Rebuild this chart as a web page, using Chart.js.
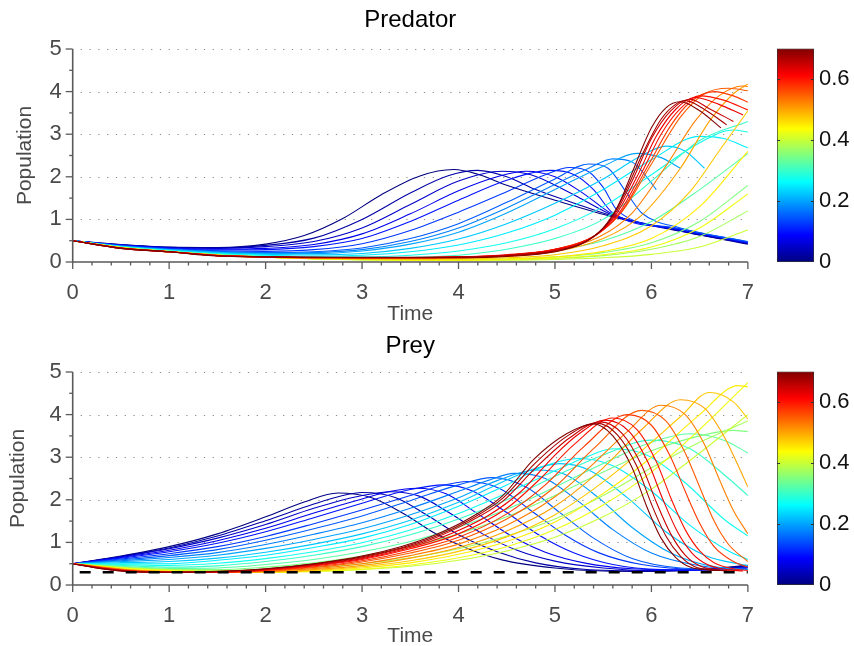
<!DOCTYPE html>
<html>
<head>
<meta charset="utf-8">
<script src="https://cdn.jsdelivr.net/npm/chart.js@4.4.1/dist/chart.umd.min.js"></script>
<style>
  body { margin: 0; background: #fff; width: 854px; height: 646px; position: relative; overflow: hidden; }
  canvas { position: absolute; }
</style>
</head>
<body>
<canvas id="predator" width="772" height="330" style="left:0;top:0"></canvas>
<canvas id="predatorBar" width="94" height="330" style="left:760px;top:0"></canvas>
<canvas id="prey" width="772" height="330" style="left:0;top:323px"></canvas>
<canvas id="preyBar" width="94" height="330" style="left:760px;top:323px"></canvas>
<script>
// parameter value of each curve (colour scale 0 .. 0.7)
const paramValues = [0, 0.025, 0.05, 0.075, 0.1, 0.125, 0.15, 0.175, 0.2, 0.225, 0.25, 0.275, 0.3, 0.325,
                     0.35, 0.375, 0.4, 0.425, 0.45, 0.475, 0.5, 0.525, 0.55, 0.575, 0.6, 0.625, 0.65, 0.675, 0.7];
const paramMax = 0.7;

// [time, population], one list per parameter value
const predatorCurves = [
  [[0,0.5],[0.5,0.41],[1,0.35],[1.5,0.34],[2,0.42],[2.4,0.62],[2.8,1.02],[3.2,1.58],[3.6,2.02],[3.95,2.17],[4.2,2.06],[4.5,1.8],[5,1.45],[5.6,1.06],[6.3,0.72],[7,0.42]],
  [[0,0.5],[0.5,0.405],[1,0.345],[1.5,0.33],[2,0.39],[2.5,0.56],[3,1.0],[3.5,1.62],[3.9,2.03],[4.2,2.15],[4.5,2.0],[4.8,1.7],[5.2,1.38],[5.6,1.08],[6.3,0.73],[7,0.43]],
  [[0,0.5],[0.5,0.4],[1,0.34],[1.5,0.32],[2,0.36],[2.5,0.48],[3,0.8],[3.5,1.35],[4,1.9],[4.45,2.13],[4.75,2.05],[5.05,1.75],[5.3,1.45],[5.6,1.1],[6.3,0.74],[7,0.44]],
  [[0,0.5],[0.5,0.395],[1,0.33],[1.5,0.3],[2,0.32],[2.5,0.41],[3,0.66],[3.5,1.13],[4,1.67],[4.4,2.0],[4.7,2.13],[5,2.0],[5.3,1.6],[5.6,1.12],[6.3,0.75],[7,0.45]],
  [[0,0.5],[0.5,0.39],[1,0.32],[1.5,0.28],[2,0.29],[2.5,0.36],[3,0.55],[3.5,0.95],[4,1.45],[4.5,1.92],[4.95,2.15],[5.2,2.05],[5.4,1.7],[5.6,1.15],[6.3,0.76],[7,0.46]],
  [[0,0.5],[0.5,0.385],[1,0.31],[1.5,0.265],[2,0.25],[2.5,0.29],[3,0.43],[3.5,0.74],[4,1.17],[4.5,1.65],[4.9,2.05],[5.15,2.22],[5.35,2.12],[5.5,1.75],[5.65,1.2],[6.3,0.78],[7,0.47]],
  [[0,0.5],[0.5,0.38],[1,0.3],[1.5,0.25],[2,0.22],[2.5,0.24],[3,0.33],[3.5,0.55],[4,0.9],[4.5,1.4],[5,1.95],[5.35,2.3],[5.55,2.2],[5.75,1.6],[5.9,1.15],[6.3,0.8],[7,0.48]],
  [[0,0.5],[0.5,0.375],[1,0.295],[1.5,0.24],[2,0.21],[2.5,0.22],[3,0.29],[3.5,0.48],[4,0.8],[4.5,1.27],[5,1.82],[5.35,2.2],[5.6,2.42],[5.8,2.35],[5.95,2.0],[6.05,1.7]],
  [[0,0.5],[0.5,0.37],[1,0.29],[1.5,0.23],[2,0.2],[2.5,0.2],[3,0.26],[3.5,0.42],[4,0.7],[4.5,1.15],[5,1.7],[5.5,2.25],[5.85,2.55],[6.1,2.45],[6.3,2.2]],
  [[0,0.5],[0.5,0.365],[1,0.28],[1.5,0.215],[2,0.18],[2.5,0.17],[3,0.2],[3.5,0.32],[4,0.54],[4.5,0.9],[5,1.38],[5.5,1.95],[5.9,2.5],[6.15,2.72],[6.35,2.6],[6.55,2.2]],
  [[0,0.5],[0.5,0.36],[1,0.27],[1.5,0.2],[2,0.16],[2.5,0.14],[3,0.16],[3.5,0.24],[4,0.4],[4.5,0.68],[5,1.1],[5.5,1.7],[6,2.4],[6.5,2.95],[6.75,2.9],[7,2.68]],
  [[0,0.5],[0.5,0.355],[1,0.265],[1.5,0.19],[2,0.145],[2.5,0.12],[3,0.12],[3.5,0.16],[4,0.26],[4.5,0.45],[5,0.78],[5.5,1.3],[6,2.05],[6.5,2.8],[6.85,3.1],[7,3.05]],
  [[0,0.5],[0.5,0.35],[1,0.26],[1.5,0.18],[2,0.13],[2.5,0.1],[3,0.09],[3.5,0.11],[4,0.16],[4.5,0.3],[5,0.55],[5.5,1.0],[6,1.9],[6.5,2.85],[7,3.3]],
  [[0,0.5],[0.5,0.345],[1,0.255],[1.5,0.175],[2,0.125],[2.5,0.09],[3,0.075],[3.5,0.075],[4,0.1],[4.5,0.16],[5,0.28],[5.5,0.5],[6,0.95],[6.5,1.7],[7,2.55]],
  [[0,0.5],[0.5,0.34],[1,0.25],[1.5,0.17],[2,0.12],[2.5,0.08],[3,0.06],[3.5,0.05],[4,0.05],[4.5,0.07],[5,0.12],[5.5,0.22],[6,0.45],[6.5,0.95],[7,1.8]],
  [[0,0.5],[0.5,0.34],[1,0.245],[1.5,0.165],[2,0.115],[2.5,0.075],[3,0.055],[3.5,0.045],[4,0.045],[4.5,0.055],[5,0.085],[5.5,0.15],[6,0.3],[6.5,0.6],[7,1.2]],
  [[0,0.5],[0.5,0.34],[1,0.24],[1.5,0.16],[2,0.11],[2.5,0.07],[3,0.05],[3.5,0.04],[4,0.04],[4.5,0.04],[5,0.06],[5.5,0.1],[6,0.18],[6.5,0.35],[7,0.75]],
  [[0,0.5],[0.5,0.34],[1,0.24],[1.5,0.16],[2,0.11],[2.5,0.075],[3,0.055],[3.5,0.045],[4,0.045],[4.5,0.055],[5,0.09],[5.5,0.17],[6,0.35],[6.5,0.8],[7,1.6]],
  [[0,0.5],[0.5,0.34],[1,0.24],[1.5,0.16],[2,0.11],[2.5,0.08],[3,0.06],[3.5,0.05],[4,0.05],[4.5,0.07],[5,0.12],[5.5,0.25],[6,0.55],[6.5,1.3],[7,2.6]],
  [[0,0.5],[0.5,0.335],[1,0.24],[1.5,0.16],[2,0.11],[2.5,0.085],[3,0.07],[3.5,0.065],[4,0.07],[4.5,0.1],[5,0.17],[5.5,0.38],[6,0.85],[6.4,1.65],[6.7,2.6],[7,3.55]],
  [[0,0.5],[0.5,0.33],[1,0.24],[1.5,0.16],[2,0.11],[2.5,0.09],[3,0.08],[3.5,0.08],[4,0.09],[4.5,0.13],[5,0.24],[5.5,0.55],[5.9,1.1],[6.3,2.2],[6.6,3.3],[6.85,3.95],[7,4.18]],
  [[0,0.5],[0.5,0.33],[1,0.24],[1.5,0.155],[2,0.115],[2.5,0.095],[3,0.085],[3.5,0.085],[4,0.095],[4.5,0.14],[5,0.27],[5.45,0.58],[5.8,1.15],[6.15,2.25],[6.45,3.3],[6.7,3.9],[6.95,4.13],[7,4.12]],
  [[0,0.5],[0.5,0.33],[1,0.24],[1.5,0.15],[2,0.12],[2.5,0.1],[3,0.09],[3.5,0.09],[4,0.1],[4.5,0.15],[5,0.3],[5.4,0.6],[5.7,1.2],[6,2.3],[6.3,3.4],[6.55,3.95],[6.8,4.08],[7,4.02]],
  [[0,0.5],[0.5,0.33],[1,0.24],[1.5,0.15],[2,0.12],[2.5,0.1],[3,0.095],[3.5,0.095],[4,0.11],[4.5,0.16],[5,0.3],[5.4,0.6],[5.68,1.15],[5.95,2.2],[6.2,3.2],[6.4,3.75],[6.65,4.0],[6.85,3.9],[7,3.75]],
  [[0,0.5],[0.5,0.33],[1,0.24],[1.5,0.15],[2,0.12],[2.5,0.1],[3,0.1],[3.5,0.1],[4,0.12],[4.5,0.17],[5,0.3],[5.4,0.6],[5.65,1.1],[5.9,2.1],[6.1,3.0],[6.3,3.6],[6.5,3.9],[6.75,3.8],[7,3.57]],
  [[0,0.5],[0.5,0.325],[1,0.24],[1.5,0.15],[2,0.12],[2.5,0.105],[3,0.105],[3.5,0.105],[4,0.12],[4.5,0.165],[5,0.29],[5.38,0.56],[5.62,1.07],[5.85,2.0],[6.05,2.95],[6.25,3.58],[6.45,3.86],[6.7,3.7],[6.95,3.45]],
  [[0,0.5],[0.5,0.32],[1,0.24],[1.5,0.15],[2,0.12],[2.5,0.11],[3,0.11],[3.5,0.11],[4,0.12],[4.5,0.16],[5,0.27],[5.35,0.52],[5.6,1.05],[5.8,1.9],[6,2.9],[6.2,3.55],[6.4,3.82],[6.6,3.6],[6.85,3.3]],
  [[0,0.5],[0.5,0.32],[1,0.24],[1.5,0.145],[2,0.12],[2.5,0.11],[3,0.105],[3.5,0.105],[4,0.11],[4.5,0.145],[5,0.255],[5.32,0.48],[5.55,0.92],[5.72,1.6],[5.9,2.5],[6.1,3.35],[6.25,3.7],[6.35,3.79],[6.55,3.58],[6.78,3.22]],
  [[0,0.5],[0.5,0.32],[1,0.24],[1.5,0.14],[2,0.12],[2.5,0.11],[3,0.1],[3.5,0.1],[4,0.1],[4.5,0.13],[5,0.24],[5.3,0.45],[5.5,0.8],[5.65,1.3],[5.8,2.1],[6,3.15],[6.15,3.62],[6.3,3.76],[6.5,3.55],[6.72,3.15]]
];

const preyCurves = [
  [[0,0.5],[0.5,0.68],[1,0.9],[1.5,1.2],[2,1.6],[2.4,1.95],[2.75,2.16],[3.1,2.05],[3.45,1.65],[3.75,1.22],[4.1,0.85],[4.45,0.59],[5,0.4],[5.5,0.33],[6,0.32],[6.5,0.36],[7,0.46]],
  [[0,0.5],[0.5,0.67],[1,0.87],[1.5,1.15],[2,1.51],[2.5,1.9],[2.8,2.1],[3,2.17],[3.35,2.05],[3.7,1.6],[4,1.18],[4.4,0.78],[4.8,0.52],[5.3,0.37],[6,0.33],[6.5,0.36],[7,0.45]],
  [[0,0.5],[0.5,0.66],[1,0.85],[1.5,1.1],[2,1.42],[2.5,1.8],[3,2.1],[3.3,2.19],[3.6,2.08],[3.9,1.7],[4.25,1.2],[4.6,0.82],[5,0.56],[5.5,0.4],[6,0.34],[6.5,0.36],[7,0.43]],
  [[0,0.5],[0.5,0.645],[1,0.815],[1.5,1.04],[2,1.33],[2.5,1.69],[3,2.02],[3.3,2.2],[3.57,2.27],[3.87,2.14],[4.2,1.67],[4.55,1.15],[4.9,0.77],[5.3,0.52],[5.8,0.38],[6.4,0.35],[7,0.41]],
  [[0,0.5],[0.5,0.63],[1,0.78],[1.5,0.98],[2,1.25],[2.5,1.58],[3,1.92],[3.5,2.24],[3.85,2.35],[4.15,2.2],[4.5,1.7],[4.85,1.15],[5.2,0.75],[5.6,0.48],[6.1,0.36],[6.6,0.35],[7,0.4]],
  [[0,0.5],[0.5,0.61],[1,0.735],[1.5,0.9],[2,1.14],[2.5,1.44],[3,1.76],[3.5,2.1],[3.8,2.32],[4.1,2.43],[4.42,2.27],[4.75,1.75],[5.1,1.18],[5.45,0.76],[5.9,0.48],[6.5,0.37],[7,0.37]],
  [[0,0.5],[0.5,0.59],[1,0.69],[1.5,0.83],[2,1.05],[2.5,1.32],[3,1.62],[3.5,1.98],[4,2.35],[4.35,2.52],[4.7,2.3],[5.05,1.7],[5.4,1.1],[5.8,0.62],[6.3,0.4],[7,0.36]],
  [[0,0.5],[0.5,0.57],[1,0.645],[1.5,0.76],[2,0.95],[2.5,1.19],[3,1.46],[3.5,1.8],[4,2.2],[4.3,2.45],[4.58,2.62],[4.9,2.5],[5.25,1.95],[5.6,1.3],[6,0.75],[6.5,0.45],[7,0.36]],
  [[0,0.5],[0.5,0.55],[1,0.6],[1.5,0.7],[2,0.86],[2.5,1.07],[3,1.32],[3.5,1.65],[4,2.05],[4.4,2.45],[4.8,2.7],[5.1,2.6],[5.45,2.05],[5.8,1.35],[6.2,0.75],[6.6,0.45],[7,0.36]],
  [[0,0.5],[0.5,0.525],[1,0.55],[1.5,0.63],[2,0.77],[2.5,0.96],[3,1.2],[3.5,1.52],[4,1.94],[4.4,2.36],[4.75,2.7],[5.05,2.85],[5.35,2.7],[5.75,2.05],[6.15,1.25],[6.55,0.7],[7,0.45]],
  [[0,0.5],[0.5,0.5],[1,0.5],[1.5,0.58],[2,0.7],[2.5,0.88],[3,1.1],[3.5,1.42],[4,1.85],[4.5,2.35],[4.9,2.8],[5.25,2.97],[5.6,2.8],[6,2.2],[6.4,1.4],[6.8,0.8],[7,0.6]],
  [[0,0.5],[0.5,0.48],[1,0.46],[1.5,0.51],[2,0.62],[2.5,0.78],[3,0.99],[3.5,1.29],[4,1.68],[4.5,2.16],[5,2.68],[5.3,2.98],[5.6,3.2],[5.95,3.05],[6.35,2.4],[6.75,1.55],[7,1.15]],
  [[0,0.5],[0.5,0.46],[1,0.42],[1.5,0.45],[2,0.55],[2.5,0.7],[3,0.9],[3.5,1.18],[4,1.55],[4.5,2.0],[5,2.55],[5.5,3.05],[6,3.4],[6.4,3.2],[6.8,2.5],[7,2.1]],
  [[0,0.5],[0.5,0.44],[1,0.39],[1.5,0.4],[2,0.48],[2.5,0.6],[3,0.78],[3.5,1.02],[4,1.36],[4.5,1.78],[5,2.3],[5.5,2.85],[6,3.35],[6.4,3.55],[6.75,3.4],[7,3.1]],
  [[0,0.5],[0.5,0.42],[1,0.37],[1.5,0.36],[2,0.42],[2.5,0.52],[3,0.68],[3.5,0.9],[4,1.2],[4.5,1.6],[5,2.1],[5.5,2.65],[6,3.15],[6.5,3.5],[6.85,3.63],[7,3.6]],
  [[0,0.5],[0.5,0.41],[1,0.36],[1.5,0.34],[2,0.36],[2.5,0.41],[3,0.5],[3.5,0.64],[4,0.85],[4.5,1.15],[5,1.55],[5.5,2.1],[6,2.75],[6.5,3.35],[7,3.85]],
  [[0,0.5],[0.5,0.4],[1,0.35],[1.5,0.32],[2,0.31],[2.5,0.32],[3,0.36],[3.5,0.44],[4,0.58],[4.5,0.8],[5,1.12],[5.5,1.6],[6,2.25],[6.5,3.1],[7,4.0]],
  [[0,0.5],[0.4,0.42],[0.8,0.36],[1.2,0.32],[1.6,0.3],[2,0.3],[2.5,0.32],[3,0.37],[3.5,0.47],[4,0.64],[4.5,0.9],[5,1.3],[5.5,1.88],[6,2.65],[6.5,3.65],[7,4.75]],
  [[0,0.5],[0.3,0.43],[0.6,0.36],[1,0.32],[1.5,0.3],[2,0.3],[2.5,0.33],[3,0.4],[3.5,0.52],[4,0.72],[4.5,1.02],[5,1.48],[5.5,2.15],[6,3.0],[6.5,4.0],[6.9,4.68],[7,4.65]],
  [[0,0.5],[0.3,0.425],[0.6,0.355],[1,0.315],[1.5,0.3],[2,0.3],[2.5,0.34],[3,0.43],[3.5,0.57],[4,0.79],[4.5,1.13],[5,1.65],[5.5,2.42],[6,3.35],[6.3,3.95],[6.6,4.52],[6.85,4.3],[7,3.9]],
  [[0,0.5],[0.3,0.42],[0.6,0.35],[1,0.31],[1.5,0.3],[2,0.31],[2.5,0.36],[3,0.46],[3.5,0.63],[4,0.88],[4.5,1.27],[5,1.85],[5.5,2.75],[5.9,3.65],[6.3,4.35],[6.55,4.15],[6.75,3.5],[6.9,2.8],[7,2.3]],
  [[0,0.5],[0.3,0.415],[0.6,0.345],[1,0.31],[1.5,0.3],[2,0.32],[2.5,0.385],[3,0.5],[3.5,0.69],[4,0.96],[4.5,1.4],[5,2.07],[5.4,2.85],[5.75,3.6],[6.1,4.22],[6.35,4.0],[6.55,3.3],[6.7,2.5],[6.85,1.75],[7,1.2]],
  [[0,0.5],[0.3,0.41],[0.6,0.34],[1,0.31],[1.5,0.3],[2,0.33],[2.5,0.41],[3,0.54],[3.5,0.75],[4,1.05],[4.5,1.55],[5,2.3],[5.4,3.2],[5.9,4.1],[6.15,3.85],[6.35,3.1],[6.5,2.3],[6.65,1.5],[6.8,0.95],[7,0.55]],
  [[0,0.5],[0.3,0.405],[0.6,0.335],[1,0.305],[1.5,0.3],[2,0.34],[2.5,0.43],[3,0.57],[3.5,0.8],[4,1.12],[4.5,1.67],[4.9,2.35],[5.3,3.25],[5.75,4.0],[6,3.75],[6.2,3.0],[6.35,2.2],[6.5,1.45],[6.65,0.9],[6.85,0.55],[7,0.42]],
  [[0,0.5],[0.3,0.4],[0.6,0.33],[1,0.3],[1.5,0.3],[2,0.35],[2.5,0.45],[3,0.6],[3.5,0.85],[4,1.2],[4.5,1.8],[4.85,2.5],[5.2,3.3],[5.6,3.92],[5.85,3.65],[6.05,2.9],[6.2,2.05],[6.35,1.3],[6.5,0.8],[6.65,0.52],[6.85,0.38],[7,0.34]],
  [[0,0.5],[0.3,0.395],[0.6,0.325],[1,0.3],[1.5,0.305],[2,0.36],[2.5,0.465],[3,0.62],[3.45,0.85],[3.85,1.14],[4.3,1.62],[4.65,2.2],[5,3.05],[5.25,3.55],[5.52,3.87],[5.77,3.6],[5.97,2.85],[6.12,2.0],[6.27,1.25],[6.42,0.75],[6.58,0.48],[6.78,0.36],[6.95,0.33]],
  [[0,0.5],[0.3,0.39],[0.6,0.32],[1,0.3],[1.5,0.31],[2,0.37],[2.5,0.48],[3,0.64],[3.4,0.85],[3.75,1.1],[4.1,1.47],[4.45,1.95],[4.8,2.75],[5.15,3.45],[5.47,3.83],[5.7,3.55],[5.9,2.8],[6.05,1.95],[6.2,1.2],[6.35,0.7],[6.5,0.45],[6.7,0.35],[6.85,0.33]],
  [[0,0.5],[0.3,0.385],[0.6,0.315],[1,0.3],[1.5,0.315],[2,0.375],[2.5,0.49],[3,0.66],[3.4,0.87],[3.75,1.13],[4.1,1.51],[4.45,2.02],[4.79,2.85],[5.13,3.5],[5.43,3.8],[5.65,3.52],[5.85,2.78],[6,1.9],[6.15,1.15],[6.3,0.68],[6.45,0.43],[6.65,0.35],[6.78,0.335]],
  [[0,0.5],[0.3,0.38],[0.6,0.31],[1,0.3],[1.5,0.32],[2,0.38],[2.5,0.5],[3,0.68],[3.4,0.9],[3.75,1.17],[4.1,1.55],[4.45,2.08],[4.78,2.95],[5.12,3.55],[5.4,3.78],[5.6,3.5],[5.8,2.75],[5.95,1.85],[6.1,1.1],[6.25,0.65],[6.4,0.42],[6.6,0.35],[6.72,0.34]]
];

const preyEquilibrium = [[0,0.3],[7,0.3]];
const timeTicks = [0, 1, 2, 3, 4, 5, 6, 7];
const populationTicks = [0, 1, 2, 3, 4, 5];
const colorbarTicks = [0, 0.2, 0.4, 0.6];

const FONT = "'Liberation Sans', Arial, sans-serif";
const GREY = '#4a4a4a';

function jet(v) {
  const c = (x) => Math.round(255 * Math.min(1, Math.max(0, x)));
  return `rgb(${c(1.5 - Math.abs(4 * v - 3))},${c(1.5 - Math.abs(4 * v - 2))},${c(1.5 - Math.abs(4 * v - 1))})`;
}

// dotted grid + matlab style axes with minor ticks
const matlabAxes = {
  id: 'matlabAxes',
  beforeDatasetsDraw(chart) {
    const {ctx, chartArea: a, scales: {y}} = chart;
    ctx.save();
    ctx.strokeStyle = '#8a8a8a';
    ctx.lineWidth = 1.2;
    ctx.setLineDash([1.2, 7.6]);
    populationTicks.slice(1).forEach(v => {
      const py = Math.round(y.getPixelForValue(v)) + 0.5;
      ctx.beginPath(); ctx.moveTo(a.left + 8, py); ctx.lineTo(a.right, py); ctx.stroke();
    });
    ctx.restore();
  },
  afterDraw(chart) {
    const {ctx, chartArea: a, scales: {x, y}} = chart;
    ctx.save();
    ctx.strokeStyle = '#5a5a5a';
    ctx.lineWidth = 1.6;
    ctx.beginPath();
    ctx.moveTo(a.left, a.top); ctx.lineTo(a.left, a.bottom); ctx.lineTo(a.right, a.bottom);
    ctx.stroke();
    ctx.lineWidth = 1.3;
    for (let i = 0; i <= 35; i++) {
      const px = x.getPixelForValue(i * 0.2);
      const len = i % 5 === 0 ? 7 : 3.5;
      ctx.beginPath(); ctx.moveTo(px, a.bottom); ctx.lineTo(px, a.bottom + len); ctx.stroke();
    }
    for (let i = 0; i <= 10; i++) {
      const py = y.getPixelForValue(i * 0.5);
      const len = i % 2 === 0 ? 7 : 3.5;
      ctx.beginPath(); ctx.moveTo(a.left, py); ctx.lineTo(a.left - len, py); ctx.stroke();
    }
    ctx.restore();
  }
};

function makePanel(id, title, curves, dashed, titleTopPad, yTitlePad, xTitlePad) {
  const datasets = [];
  if (dashed) {
    datasets.push({
      data: dashed.map(([t, v]) => ({x: t, y: v})),
      borderColor: '#000', borderWidth: 2.4, borderDash: [11, 12], borderDashOffset: 16,
      pointRadius: 0, tension: 0
    });
  }
  // highest parameter first so the red curves sit on top, as in the original
  for (let i = curves.length - 1; i >= 0; i--) {
    datasets.push({
      data: curves[i].map(([t, v]) => ({x: t, y: v})),
      borderColor: jet(paramValues[i] / paramMax),
      borderWidth: 1.1,
      pointRadius: 0,
      cubicInterpolationMode: 'monotone'
    });
  }
  return new Chart(document.getElementById(id), {
    type: 'line',
    data: {datasets},
    plugins: [matlabAxes],
    options: {
      responsive: false,
      animation: false,
      events: [],
      layout: {padding: {left: 0, right: 0, top: 0, bottom: 0}},
      plugins: {
        legend: {display: false},
        tooltip: {enabled: false},
        title: {
          display: true, text: title, color: '#000', fullSize: false,
          font: {family: FONT, size: 24, weight: 'normal', lineHeight: 1.2},
          padding: {top: titleTopPad, bottom: 49 - titleTopPad - 28.8}
        }
      },
      scales: {
        x: {
          type: 'linear', min: 0, max: 7,
          afterBuildTicks: (s) => { s.ticks = timeTicks.map(v => ({value: v})); },
          afterFit: (s) => { s.height = 68; },
          grid: {display: false, drawTicks: false},
          border: {display: false},
          ticks: {color: GREY, padding: 18, maxRotation: 0, font: {family: FONT, size: 22}},
          title: {display: true, text: 'Time', color: GREY, padding: {top: 0, bottom: xTitlePad},
                  font: {family: FONT, size: 21, lineHeight: 1.2}}
        },
        y: {
          min: 0, max: 5,
          afterBuildTicks: (s) => { s.ticks = populationTicks.map(v => ({value: v})); },
          afterFit: (s) => { s.width = 72.7; },
          grid: {display: false, drawTicks: false},
          border: {display: false},
          ticks: {color: GREY, padding: 11, font: {family: FONT, size: 22}},
          title: {display: true, text: 'Population', color: GREY, padding: {top: yTitlePad, bottom: 0},
                  font: {family: FONT, size: 21, lineHeight: 1.2}}
        }
      }
    }
  });
}

const colorbarTicksPlugin = {
  id: 'colorbarTicks',
  afterDraw(chart) {
    const {ctx, chartArea: a, scales: {y}} = chart;
    ctx.save();
    ctx.strokeStyle = '#333';
    ctx.lineWidth = 1;
    colorbarTicks.slice(1).forEach(v => {
      const py = Math.round(y.getPixelForValue(v)) + 0.5;
      ctx.beginPath(); ctx.moveTo(a.left, py); ctx.lineTo(a.left + 3, py); ctx.stroke();
      ctx.beginPath(); ctx.moveTo(a.right, py); ctx.lineTo(a.right - 3, py); ctx.stroke();
    });
    ctx.restore();
  }
};

function makeColorbar(id) {
  return new Chart(document.getElementById(id), {
    type: 'bar',
    data: {
      labels: [''],
      datasets: [{
        data: [[0, paramMax]],
        backgroundColor: (c) => {
          const a = c.chart.chartArea;
          if (!a) return '#888';
          const g = c.chart.ctx.createLinearGradient(0, a.bottom, 0, a.top);
          for (let k = 0; k <= 40; k++) g.addColorStop(k / 40, jet(k / 40));
          return g;
        },
        borderColor: '#333', borderWidth: 1, borderSkipped: false,
        barPercentage: 1, categoryPercentage: 1
      }]
    },
    plugins: [colorbarTicksPlugin],
    options: {
      responsive: false,
      animation: false,
      events: [],
      layout: {padding: {left: 17, right: 0, top: 48.5, bottom: 68}},
      plugins: {legend: {display: false}, tooltip: {enabled: false}},
      scales: {
        x: {display: false},
        y: {
          position: 'right', min: 0, max: paramMax,
          afterBuildTicks: (s) => { s.ticks = colorbarTicks.map(v => ({value: v})); },
          afterFit: (s) => { s.width = 40; },
          grid: {display: false, drawTicks: false},
          border: {display: false},
          ticks: {color: '#111', padding: 5, font: {family: FONT, size: 22}, callback: (v) => String(v)}
        }
      }
    }
  });
}

makePanel('predator', 'Predator', predatorCurves, null, 5.6, 12.4, 3.4);
makePanel('prey', 'Prey', preyCurves, preyEquilibrium, 8.6, 5.4, 4.4);
makeColorbar('predatorBar');
makeColorbar('preyBar');
</script>
</body>
</html>
